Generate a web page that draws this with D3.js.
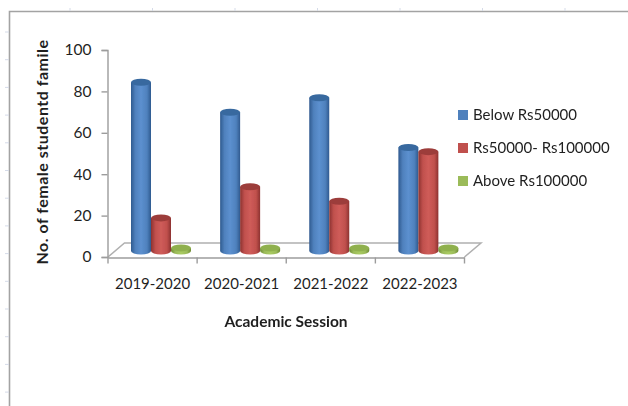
<!DOCTYPE html>
<html>
<head>
<meta charset="utf-8">
<script src="https://cdn.jsdelivr.net/npm/d3@7"></script>
<style>
  html, body { margin: 0; padding: 0; background: #fff; }
  text { font-family: Lato, sans-serif; fill: #1f1f1f; }
</style>
</head>
<body>
<div id="chart"></div>
<script>
var sessions = ["2019-2020", "2020-2021", "2021-2022", "2022-2023"];
var seriesNames = ["Below Rs50000", "Rs50000- Rs100000", "Above Rs100000"];
var below = [81.5, 67, 74, 50];
var middle = [16, 31, 24, 48];
var above = [1.5, 1.5, 1.5, 1.5];
var yTicks = [0, 20, 40, 60, 80, 100];

var seriesValues = [below, middle, above];
var svgWidth = 628;
var svgHeight = 406;

// colours: edge, mid, highlight, top cap
var palette = [
  { base: "#4f81bd", edge: "#2f5a8f", light: "#5c90cf", cap: "#37699f" },
  { base: "#c0504d", edge: "#8c3230", light: "#cf5c59", cap: "#9c3c3a" },
  { base: "#9bbb59", edge: "#6f8c35", light: "#a9cb62", cap: "#8fb04e" }
];

var svg = d3.select("#chart")
  .append("svg")
  .attr("width", svgWidth)
  .attr("height", svgHeight)
  .style("display", "block");

var defs = svg.append("defs");
palette.forEach(function(c, i) {
  var grad = defs.append("linearGradient").attr("id", "cyl" + i);
  grad.append("stop").attr("offset", "0%").attr("stop-color", c.edge);
  grad.append("stop").attr("offset", "22%").attr("stop-color", c.base);
  grad.append("stop").attr("offset", "50%").attr("stop-color", c.light);
  grad.append("stop").attr("offset", "80%").attr("stop-color", c.base);
  grad.append("stop").attr("offset", "100%").attr("stop-color", c.edge);
});
defs.append("filter").attr("id", "soft")
  .append("feGaussianBlur").attr("stdDeviation", 0.45);

// frame of the pasted sheet
var frame = svg.append("g");
frame.append("path")
  .attr("d", "M9.5,406V11.5H628")
  .attr("fill", "none")
  .attr("stroke", "#a3a3a3")
  .attr("stroke-width", 1.6);
d3.range(7).forEach(function(i) {
  frame.append("line")
    .attr("x1", 70 + i * 82.5).attr("x2", 70 + i * 82.5)
    .attr("y1", 8).attr("y2", 11)
    .attr("stroke", "#d5dbe8");
});
d3.range(14).forEach(function(i) {
  frame.append("line")
    .attr("x1", 5).attr("x2", 9)
    .attr("y1", 32 + i * 27.7).attr("y2", 32 + i * 27.7)
    .attr("stroke", "#d5dbe8");
});

var x = d3.scaleBand().domain(sessions).range([108, 464.5]);
var y = d3.scaleLinear().domain([0, 100]).range([257, 50]);

// floor of the 3D chart
var depthX = 16.5;
var depthY = 14;
svg.append("path")
  .attr("d", "M" + x.range()[0] + "," + y(0) +
    "L" + (x.range()[0] + depthX) + "," + (y(0) - depthY) +
    "H" + (x.range()[1] + depthX) +
    "L" + x.range()[1] + "," + y(0))
  .attr("fill", "none")
  .attr("stroke", "#b0b0b0")
  .attr("stroke-width", 1.5);

var yAxis = svg.append("g")
  .attr("transform", "translate(107.5,0)")
  .call(d3.axisLeft(y).tickValues(yTicks).tickSize(6).tickPadding(10));
yAxis.selectAll("text").style("font-size", "15.5px");

var xAxis = svg.append("g")
  .attr("transform", "translate(0,257.5)")
  .call(d3.axisBottom(x).tickSize(0).tickPadding(21));
xAxis.selectAll("text").style("font-size", "15px");
xAxis.selectAll(".tick").select("line").remove();
xAxis.selectAll(".boundary")
  .data(x.domain().map(function(d) { return x(d); }).concat(x.range()[1]))
  .enter().append("line")
  .attr("class", "boundary")
  .attr("x1", function(d) { return d; })
  .attr("x2", function(d) { return d; })
  .attr("y1", 0).attr("y2", 6);
svg.selectAll(".domain, .tick line, .boundary")
  .attr("stroke", "#9c9c9c")
  .attr("stroke-width", 1.4);

// cylinders sit on the floor, so they are shifted back from the axis line
var barWidth = 20;
var rx = barWidth / 2;
var ry = 3.5;
var baseShiftX = 23;
var baseShiftY = 6;

var barsGroup = svg.append("g").attr("filter", "url(#soft)");
seriesValues.forEach(function(values, s) {
  var g = barsGroup.selectAll(".s" + s)
    .data(values)
    .enter().append("g")
    .attr("class", "s" + s)
    .attr("transform", function(d, i) {
      return "translate(" + (x(sessions[i]) + baseShiftX + s * barWidth) + "," + (-baseShiftY) + ")";
    });
  g.append("path")
    .attr("d", function(d) {
      var top = y(d);
      var bottom = y(0);
      return "M0," + top + "V" + bottom +
        "A" + rx + "," + ry + " 0 0 0 " + barWidth + "," + bottom +
        "V" + top + "Z";
    })
    .attr("fill", "url(#cyl" + s + ")");
  g.append("ellipse")
    .attr("cx", rx)
    .attr("cy", function(d) { return y(d); })
    .attr("rx", rx)
    .attr("ry", ry)
    .attr("fill", palette[s].cap);
});

// legend
var legendY = [115, 148, 181];
var legend = svg.append("g");
seriesNames.forEach(function(name, i) {
  legend.append("rect")
    .attr("x", 458).attr("y", legendY[i] - 5)
    .attr("width", 10).attr("height", 10)
    .attr("fill", palette[i].base);
  legend.append("text")
    .attr("x", 473).attr("y", legendY[i] + 5)
    .style("font-size", "15px")
    .text(name);
});

// axis titles
svg.append("text")
  .attr("x", 286).attr("y", 327)
  .attr("text-anchor", "middle")
  .style("font-size", "15.5px")
  .style("font-weight", "bold")
  .text("Academic Session");

svg.append("text")
  .attr("transform", "translate(48,152) rotate(-90)")
  .attr("text-anchor", "middle")
  .style("font-size", "16px")
  .style("font-weight", "bold")
  .style("letter-spacing", "0.5px")
  .text("No. of female studentd famile");
</script>
</body>
</html>
